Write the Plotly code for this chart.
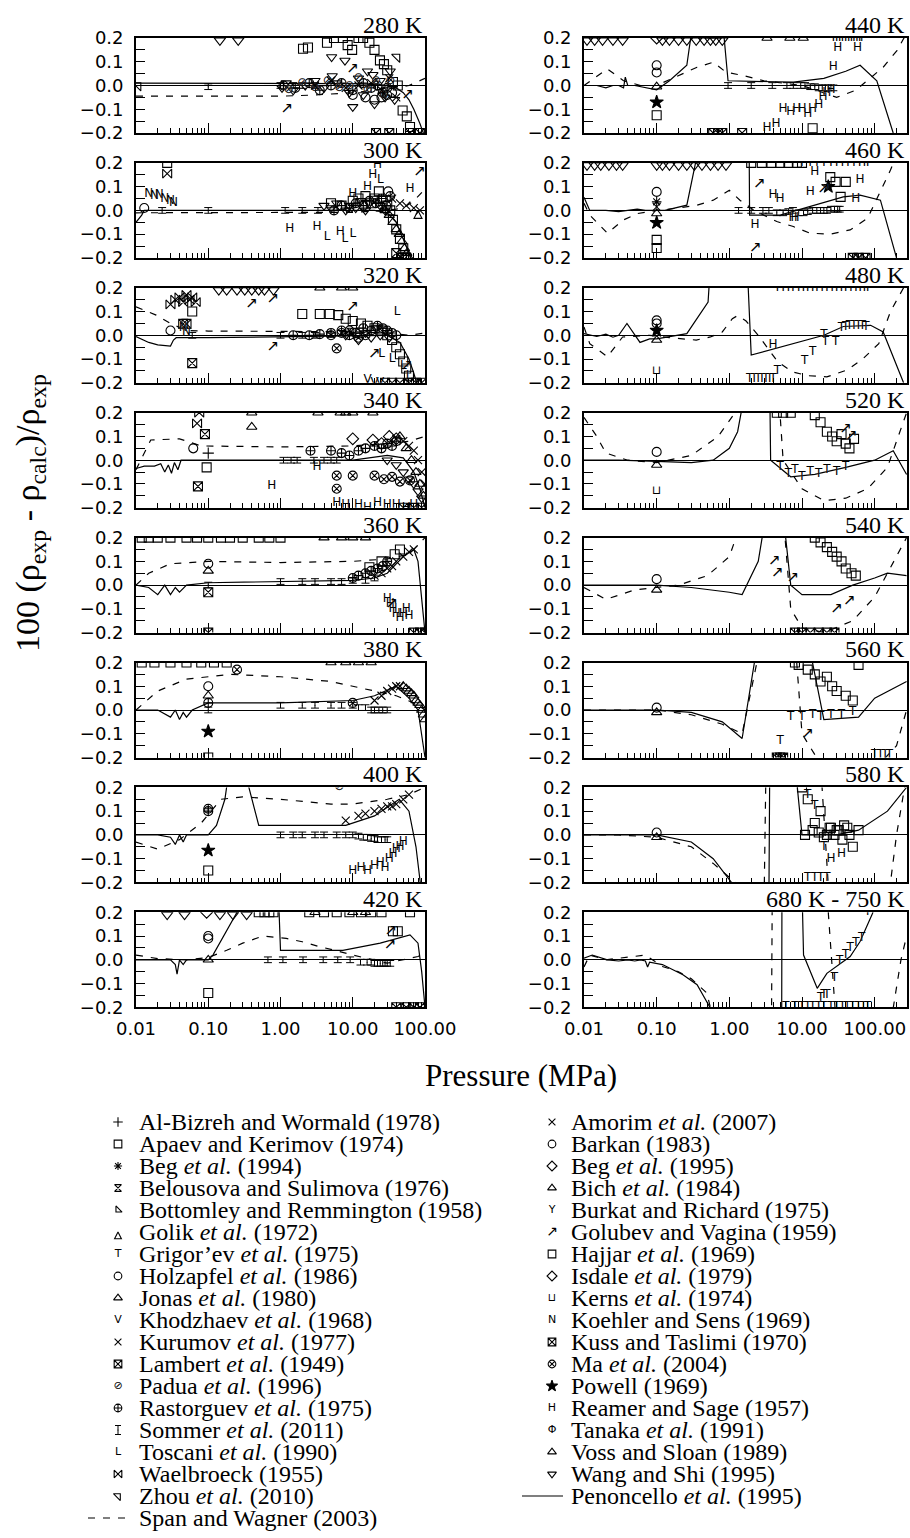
import re
import plotly.graph_objects as go

# ---------------- data (pressure in MPa, deviation in %) ----------------
# 280 K
t280_solid_p = [0.01, 0.1, 1, 5, 10, 20, 30, 40, 50, 60, 70, 85, 100]
t280_solid_d = [0.01, 0.01, 0.01, 0.01, 0.008, 0.005, 0.0, -0.01, -0.03, -0.06, -0.1, -0.16, -0.22]
t280_dash_p = [0.01, 0.1, 1, 3, 10, 20, 40, 60, 80, 100]
t280_dash_d = [-0.045, -0.045, -0.045, -0.04, -0.03, -0.02, -0.01, 0.0, 0.015, 0.03]
t280_sommer_p = [0.1, 1.0, 1.5, 2.0, 3.0]
t280_sommer_d = [-0.005, 0.0, 0.0, 0.0, 0.0]
t280_wangtop_p = [0.145, 0.26]
t280_wangtop_d = [0.19, 0.19]
t280_zhou_p = [0.0107, 41]
t280_zhou_d = [0.0, 0.12]
t280_wang_p = [1.05, 1.2, 1.5, 2.2, 3, 4, 5.1, 5.2, 6, 7.8, 9, 10, 12, 14, 16, 19, 20, 24, 28, 33, 38]
t280_wang_d = [-0.01, 0.01, -0.02, 0.0, 0.02, -0.01, 0.12, 0.04, 0.01, 0.105, -0.03, -0.09, 0.03, -0.04, 0.06, 0.045, -0.078, 0.02, -0.05, 0.06, -0.06]
t280_apaev_p = [2.05, 4.4, 5.5, 7.3, 8.5, 9.8, 12, 13.9, 17, 20, 23.8, 27, 30, 36, 42, 49, 56, 62]
t280_apaev_d = [0.155, 0.18, 0.2, 0.2, 0.17, 0.15, 0.2, 0.2, 0.18, 0.15, 0.106, 0.09, 0.064, 0.015, 0.0, -0.105, -0.13, -0.175]
t280_hajjar_p = [2.4]
t280_hajjar_d = [0.16]
t280_rastorguev_p = [1.1, 1.6, 2.5, 3.5, 5, 7, 10, 14, 18, 22, 26, 30]
t280_rastorguev_d = [0.0, -0.01, 0.01, -0.02, 0.0, 0.01, -0.02, 0.01, -0.01, 0.0, -0.03, -0.01]
t280_padua_p = [1.3, 2, 3, 4.5, 6.5, 9, 12, 16, 21, 27, 33]
t280_padua_d = [-0.02, 0.01, -0.01, 0.02, -0.01, 0.0, 0.03, -0.02, 0.02, -0.04, 0.02]
t280_kurumov_p = [3, 5, 8, 12, 18, 25, 32, 40]
t280_kurumov_d = [0.0, 0.02, -0.01, 0.0, 0.01, -0.02, 0.03, -0.05]
t280_holzapfel_p = [10, 15, 20, 25, 30, 35]
t280_holzapfel_d = [-0.04, -0.05, -0.06, -0.05, -0.04, -0.03]
t280_golubev_p = [1.23, 10, 58]
t280_golubev_d = [-0.1, 0.07, -0.04]
t280_kuss_p = [21, 32, 62, 85]
t280_kuss_d = [-0.2, -0.2, -0.2, -0.2]

# 300 K
t300_solid_p = [0.01, 0.012, 0.013, 0.1, 1, 10, 20, 30, 40, 50, 60, 70]
t300_solid_d = [-0.05, -0.02, 0.0, 0.0, 0.0, 0.0, 0.0, -0.01, -0.05, -0.12, -0.18, -0.25]
t300_dash_p = [0.01, 0.1, 1, 10, 30, 50, 70, 100]
t300_dash_d = [-0.01, -0.01, -0.01, -0.008, 0.0, 0.01, 0.04, 0.09]
t300_sommer_p = [0.023, 0.1, 1.16, 2.0, 3.3]
t300_sommer_d = [0.0, 0.0, 0.0, 0.0, 0.0]
t300_koehler_p = [0.015, 0.018, 0.021, 0.025, 0.03, 0.033]
t300_koehler_d = [0.07, 0.06, 0.065, 0.05, 0.04, 0.03]
t300_barkan_p = [0.013, 31]
t300_barkan_d = [0.01, 0.08]
t300_waelbroeck_p = [0.027]
t300_waelbroeck_d = [0.155]
t300_apaev_p = [0.027, 5, 7, 10, 12, 15, 18, 20, 23, 26, 30, 33, 36, 40, 45, 50, 55]
t300_apaev_d = [0.2, 0.03, 0.02, 0.04, 0.05, 0.06, 0.03, 0.05, 0.08, 0.04, 0.02, 0.0, -0.04, -0.08, -0.12, -0.16, -0.2]
t300_reamer_p = [1.34, 3.2, 6.7, 10, 16, 19, 22, 62]
t300_reamer_d = [-0.08, -0.07, -0.09, 0.07, 0.1, 0.15, 0.19, 0.09]
t300_toscani_p = [4.4, 7.8, 10, 24]
t300_toscani_d = [-0.11, -0.12, -0.1, 0.13]
t300_bich_p = [28, 32, 36, 40, 44, 48, 52, 56, 60]
t300_bich_d = [0.0, -0.02, -0.05, -0.08, -0.1, -0.13, -0.16, -0.18, -0.2]
t300_wang_p = [4, 5, 6, 8, 9, 11, 13, 15, 17, 20, 24, 28]
t300_wang_d = [0.02, 0.01, 0.03, 0.0, 0.02, 0.01, 0.04, 0.0, 0.03, 0.05, 0.02, 0.0]
t300_rastorguev_p = [5.5, 7, 9, 11, 14, 17, 21, 25, 29, 33]
t300_rastorguev_d = [0.0, 0.02, 0.01, 0.03, 0.02, 0.04, 0.03, 0.05, 0.02, 0.06]
t300_amorim_p = [35, 45, 55, 70, 85]
t300_amorim_d = [0.05, 0.03, 0.02, 0.01, 0.0]
t300_kuss_p = [40, 48]
t300_kuss_d = [-0.18, -0.2]
t300_golik_p = [80]
t300_golik_d = [0.0]
t300_golubev_p = [85]
t300_golubev_d = [0.16]

# 320 K
t320_solid_p = [0.01, 0.015, 0.02, 0.03, 0.033, 0.036, 0.1, 1, 10, 20, 30, 45, 60, 70, 80]
t320_solid_d = [-0.005, -0.03, -0.04, -0.045, -0.02, -0.01, -0.01, -0.005, 0.0, 0.0, 0.0, -0.03, -0.1, -0.16, -0.22]
t320_dash_p = [0.01, 0.015, 0.019, 0.03, 0.05, 0.1, 1, 10, 30, 60, 100]
t320_dash_d = [0.12, 0.1, 0.085, 0.05, 0.02, 0.018, 0.018, 0.015, 0.01, 0.0, 0.01]
t320_waelbroeck_p = [0.03, 0.035, 0.04, 0.045, 0.05, 0.055, 0.06, 0.067]
t320_waelbroeck_d = [0.13, 0.15, 0.16, 0.14, 0.17, 0.15, 0.16, 0.14]
t320_lambert_p = [0.045, 0.05, 0.06]
t320_lambert_d = [0.048, 0.048, -0.117]
t320_apaev_p = [0.06, 2.0, 3.5, 4.8, 6.3, 8, 10, 13, 16, 20, 25, 30, 35, 40, 45, 50, 55, 60, 65]
t320_apaev_d = [0.1, 0.09, 0.09, 0.09, 0.085, 0.07, 0.06, 0.05, 0.04, 0.03, 0.02, 0.0, -0.02, -0.05, -0.08, -0.11, -0.14, -0.17, -0.2]
t320_barkan_p = [0.03]
t320_barkan_d = [0.02]
t320_sommer_p = [0.06, 1.0, 2.0, 3.0]
t320_sommer_d = [0.0, 0.0, 0.0, 0.0]
t320_wangtop_p = [0.14, 0.18, 0.25, 0.32, 0.4, 0.5, 0.6, 0.8]
t320_wangtop_d = [0.19, 0.19, 0.19, 0.19, 0.19, 0.19, 0.19, 0.19]
t320_jonas_p = [3.5, 7, 10]
t320_jonas_d = [0.2, 0.2, 0.2]
t320_golubev_p = [0.4, 0.79, 0.79, 10, 20, 56]
t320_golubev_d = [0.13, 0.15, -0.05, 0.12, -0.08, -0.13]
t320_toscani_p = [41, 25, 35, 50, 60]
t320_toscani_d = [0.1, -0.08, -0.1, -0.13, -0.17]
t320_ma_p = [6, 5, 7, 9, 12, 15]
t320_ma_d = [-0.055, 0.0, 0.01, 0.02, -0.01, 0.0]
t320_rastorguev_p = [1.5, 2.5, 3.5, 5, 7, 9, 11, 14, 18, 22, 26, 30, 35, 40]
t320_rastorguev_d = [0.0, 0.0, 0.005, 0.01, 0.02, 0.0, 0.01, 0.03, 0.02, 0.04, 0.03, 0.02, 0.01, 0.0]
t320_wang_p = [8, 10, 12, 15, 18, 21, 24, 28, 32]
t320_wang_d = [0.0, 0.02, -0.02, 0.01, -0.01, 0.03, 0.0, 0.02, -0.01]
t320_khodzhaev_p = [16, 20, 24]
t320_khodzhaev_d = [-0.19, -0.2, -0.2]
t320_kuss_p = [28, 35, 45, 60, 75, 90]
t320_kuss_d = [-0.2, -0.2, -0.2, -0.2, -0.2, -0.2]
t320_koehler_p = [0.045, 0.05]
t320_koehler_d = [0.03, 0.013]

# 340 K
t340_solid_p = [0.01, 0.013, 0.018, 0.022, 0.025, 0.028, 0.031, 0.034, 0.038, 0.042, 0.05, 0.1, 1, 10, 30, 50, 70, 85, 100]
t340_solid_d = [-0.035, -0.025, -0.025, -0.015, -0.05, -0.02, -0.055, -0.01, -0.04, 0.0, 0.0, 0.0, 0.0, 0.0, 0.02, 0.01, -0.05, -0.12, -0.2]
t340_dash_p = [0.01, 0.013, 0.016, 0.04, 0.08, 1, 10, 30, 60, 100]
t340_dash_d = [-0.04, 0.03, 0.085, 0.09, 0.06, 0.056, 0.06, 0.07, 0.08, 0.1]
t340_waelbroeck_p = [0.07, 0.075]
t340_waelbroeck_d = [0.155, 0.2]
t340_lambert_p = [0.09, 0.072]
t340_lambert_d = [0.11, -0.11]
t340_barkan_p = [0.062]
t340_barkan_d = [0.05]
t340_apaev_p = [0.095]
t340_apaev_d = [-0.03]
t340_albizreh_p = [0.1]
t340_albizreh_d = [0.03]
t340_jonas_p = [0.4, 0.4, 3.3, 6.7, 8, 10, 19]
t340_jonas_d = [0.2, 0.14, 0.2, 0.2, 0.2, 0.2, 0.2]
t340_reamer_p = [0.76, 3.2, 6, 8, 12, 16, 22, 30, 40, 55, 70]
t340_reamer_d = [-0.11, -0.03, -0.18, -0.19, -0.19, -0.2, -0.18, -0.19, -0.19, -0.2, -0.19]
t340_sommer_p = [1.1, 1.4, 1.7, 2.9, 4, 5, 6]
t340_sommer_d = [0.0, 0.0, 0.0, 0.0, 0.0, 0.0, 0.0]
t340_rastorguev_p = [2.6, 5, 7, 9, 12, 15, 20, 25, 30, 35, 40]
t340_rastorguev_d = [0.04, 0.04, 0.03, 0.02, 0.04, 0.05, 0.06, 0.05, 0.07, 0.06, 0.08]
t340_ma_p = [6, 6, 10, 20, 27, 35, 45, 62]
t340_ma_d = [-0.065, -0.12, -0.065, -0.065, -0.08, -0.07, -0.09, -0.085]
t340_beg95_p = [10, 19, 25, 32, 40]
t340_beg95_d = [0.09, 0.085, 0.07, 0.1, 0.09]
t340_wang_p = [30, 40, 50, 60, 70, 80, 90]
t340_wang_d = [0.0, -0.02, -0.05, -0.08, -0.1, -0.13, -0.16]
t340_bich_p = [45, 55, 65, 75, 85, 95]
t340_bich_d = [0.1, 0.05, 0.0, -0.05, -0.1, -0.15]
t340_amorim_p = [40, 50, 60, 70, 80, 90, 100]
t340_amorim_d = [0.09, 0.08, 0.06, 0.04, 0.0, -0.05, -0.1]
t340_kuss_p = [50, 70, 90]
t340_kuss_d = [-0.2, -0.2, -0.2]

# 360 K
t360_solid_p = [0.01, 0.015, 0.02, 0.025, 0.03, 0.035, 0.04, 0.05, 0.1, 1, 10, 20, 30, 50, 70, 80, 90, 100]
t360_solid_d = [0.0, -0.01, -0.04, 0.0, -0.04, -0.01, -0.03, 0.0, 0.01, 0.015, 0.02, 0.03, 0.05, 0.12, 0.15, 0.1, -0.05, -0.2]
t360_dash_p = [0.01, 0.015, 0.03, 0.1, 1, 10, 30, 60, 100]
t360_dash_d = [0.0, 0.05, 0.09, 0.1, 0.095, 0.1, 0.11, 0.13, 0.2]
t360_apaev_p = [0.012, 0.015, 0.02, 0.03, 0.05, 0.07, 0.1, 0.15, 0.2, 0.3, 0.5, 0.7, 1.0, 17, 25, 38, 45]
t360_apaev_d = [0.2, 0.2, 0.2, 0.2, 0.2, 0.2, 0.2, 0.2, 0.2, 0.2, 0.2, 0.2, 0.2, 0.075, 0.1, 0.13, 0.15]
t360_jonas_p = [4, 7, 10, 15]
t360_jonas_d = [0.2, 0.2, 0.2, 0.2]
t360_barkan_p = [0.1]
t360_barkan_d = [0.09]
t360_bich_p = [0.1]
t360_bich_d = [0.06]
t360_lambert_p = [0.1]
t360_lambert_d = [-0.03]
t360_sommer_p = [0.1, 1, 2, 3, 5, 7, 10, 15, 20]
t360_sommer_d = [0.0, 0.015, 0.015, 0.015, 0.015, 0.015, 0.02, 0.02, 0.03]
t360_amorim_p = [20, 25, 30, 35, 40, 50, 60, 70]
t360_amorim_d = [0.04, 0.05, 0.07, 0.08, 0.1, 0.12, 0.14, 0.15]
t360_reamer_p = [30, 33, 36, 40, 45, 50, 55, 60]
t360_reamer_d = [-0.06, -0.08, -0.1, -0.12, -0.14, -0.12, -0.1, -0.13]
t360_golubev_p = [35]
t360_golubev_d = [-0.08]
t360_kuss_p = [0.1, 70, 85, 100]
t360_kuss_d = [-0.2, -0.2, -0.2, -0.2]
t360_rastorguev_p = [10, 12, 15, 18, 22, 26, 30]
t360_rastorguev_d = [0.03, 0.04, 0.05, 0.06, 0.07, 0.08, 0.1]

# 380 K
t380_solid_p = [0.01, 0.02, 0.03, 0.035, 0.04, 0.045, 0.05, 0.06, 0.1, 1, 10, 20, 40, 60, 80, 90, 100]
t380_solid_d = [0.0, 0.0, -0.03, 0.0, -0.04, -0.01, -0.03, 0.0, 0.03, 0.03, 0.04, 0.06, 0.1, 0.05, 0.0, -0.1, -0.2]
t380_dash_p = [0.01, 0.02, 0.05, 0.2, 1, 5, 10, 20, 40, 70, 100]
t380_dash_d = [0.0, 0.08, 0.13, 0.15, 0.14, 0.12, 0.1, 0.08, 0.06, 0.03, 0.0]
t380_apaev_p = [0.012, 0.018, 0.03, 0.05, 0.08, 0.12, 0.18, 0.1]
t380_apaev_d = [0.2, 0.2, 0.2, 0.2, 0.2, 0.2, 0.2, -0.2]
t380_ma_p = [0.25, 10]
t380_ma_d = [0.17, 0.03]
t380_jonas_p = [5, 8, 12, 18]
t380_jonas_d = [0.2, 0.2, 0.2, 0.2]
t380_barkan_p = [0.1]
t380_barkan_d = [0.1]
t380_bich_p = [0.1, 50, 55, 60, 65, 70, 75, 80, 85, 90, 95, 100]
t380_bich_d = [0.06, 0.1, 0.09, 0.08, 0.07, 0.06, 0.04, 0.03, 0.02, 0.0, -0.02, -0.04]
t380_rastorguev_p = [0.1]
t380_rastorguev_d = [0.03]
t380_powell_p = [0.1]
t380_powell_d = [-0.09]
t380_sommer_p = [0.1, 1, 2, 3, 5, 7, 10, 12, 15, 18, 20, 23, 26, 30]
t380_sommer_d = [0.0, 0.02, 0.02, 0.02, 0.02, 0.02, 0.02, 0.01, 0.01, 0.0, 0.0, 0.0, 0.0, 0.0]
t380_amorim_p = [20, 25, 30, 35, 40, 45]
t380_amorim_d = [0.04, 0.06, 0.08, 0.09, 0.1, 0.1]

# 400 K
t400_solid_p = [0.01, 0.02, 0.03, 0.035, 0.04, 0.045, 0.05, 0.1, 0.13, 0.17, 0.2, 0.3, 0.5, 1, 5, 8, 20, 44, 60, 75, 90]
t400_solid_d = [0.0, 0.0, -0.01, -0.04, 0.0, -0.03, 0.0, 0.0, 0.04, 0.15, 0.3, 0.3, 0.04, 0.04, 0.04, 0.04, 0.08, 0.15, 0.1, -0.05, -0.25]
t400_dash_p = [0.01, 0.02, 0.04, 0.08, 0.15, 0.3, 1, 5, 10, 30, 60, 100]
t400_dash_d = [-0.03, -0.06, -0.02, 0.05, 0.15, 0.16, 0.15, 0.13, 0.13, 0.15, 0.17, 0.2]
t400_rastorguev_p = [0.1, 0.1]
t400_rastorguev_d = [0.11, 0.1]
t400_powell_p = [0.1]
t400_powell_d = [-0.065]
t400_apaev_p = [0.1]
t400_apaev_d = [-0.15]
t400_sommer_p = [1, 1.5, 2, 3, 4, 6, 8, 10, 12, 14, 16, 18, 20, 22, 25, 28, 30]
t400_sommer_d = [0.0, 0.0, 0.0, 0.0, 0.0, 0.0, 0.0, 0.0, -0.005, -0.01, -0.01, -0.015, -0.015, -0.02, -0.02, -0.02, -0.02]
t400_amorim_p = [8, 12, 15, 20, 25, 30, 35, 40, 50, 60]
t400_amorim_d = [0.06, 0.08, 0.09, 0.1, 0.11, 0.12, 0.12, 0.13, 0.15, 0.17]
t400_reamer_p = [10, 13, 16, 20, 24, 28, 32, 36, 40, 45, 50]
t400_reamer_d = [-0.15, -0.14, -0.15, -0.13, -0.12, -0.14, -0.1, -0.08, -0.06, -0.05, -0.03]
t400_padua_p = [6.5]
t400_padua_d = [0.2]

# 420 K
t420_solid_p = [0.01, 0.02, 0.03, 0.035, 0.037, 0.04, 0.045, 0.05, 0.1, 0.116, 0.18, 0.25, 0.3, 0.93, 1.0, 7.3, 24, 62, 80, 90, 100]
t420_solid_d = [0.0, 0.0, 0.0, -0.02, -0.06, 0.0, -0.02, 0.0, 0.0, 0.02, 0.12, 0.2, 0.3, 0.3, 0.04, 0.04, 0.07, 0.105, 0.07, -0.05, -0.2]
t420_dash_p = [0.01, 0.02, 0.05, 0.1, 0.18, 0.3, 0.57, 1.2, 2, 3.4, 5.7, 10, 30, 80, 100]
t420_dash_d = [0.02, 0.005, 0.0, 0.01, 0.04, 0.07, 0.1, 0.09, 0.076, 0.056, 0.04, 0.02, -0.014, 0.014, 0.03]
t420_wangtop_p = [0.027, 0.047, 0.145, 0.22, 0.34]
t420_wangtop_d = [0.19, 0.19, 0.19, 0.19, 0.19]
t420_beg95_p = [0.095]
t420_beg95_d = [0.2]
t420_apaev_p = [0.5, 0.6, 0.7, 0.8, 2.5, 4, 6, 9, 13, 18, 25, 62, 36, 42]
t420_apaev_d = [0.2, 0.2, 0.2, 0.2, 0.2, 0.2, 0.2, 0.2, 0.2, 0.2, 0.2, 0.2, 0.12, 0.12]
t420_jonas_p = [3, 10, 15]
t420_jonas_d = [0.2, 0.2, 0.2]
t420_barkan_p = [0.1, 0.1]
t420_barkan_d = [0.1, 0.09]
t420_bich_p = [0.1]
t420_bich_d = [0.0]
t420_hajjar_p = [0.1]
t420_hajjar_d = [-0.14]
t420_sommer_p = [0.67, 1.08, 2.05, 3.9, 6.2, 9.2, 12.8, 15.8, 18, 20, 22, 24, 26, 28, 30, 33]
t420_sommer_d = [0.0, 0.0, 0.0, 0.0, 0.0, 0.0, -0.01, -0.01, -0.01, -0.015, -0.015, -0.015, -0.015, -0.015, -0.015, -0.015]
t420_golubev_p = [34, 33]
t420_golubev_d = [0.12, 0.06]
t420_kuss_p = [40, 55, 70, 85]
t420_kuss_d = [-0.2, -0.2, -0.2, -0.2]

# 440 K
t440_solid_p = [0.01, 0.015, 0.02, 0.025, 0.03, 0.035, 0.037, 0.04, 0.05, 0.07, 0.1, 0.15, 0.26, 0.31, 0.82, 0.96, 7.6, 20, 40, 63, 107, 180]
t440_solid_d = [0.0, 0.0, -0.01, 0.0, 0.0, -0.01, 0.035, 0.0, 0.0, -0.01, -0.018, 0.02, 0.085, 0.25, 0.25, 0.02, 0.014, 0.03, 0.06, 0.085, 0.02, -0.2]
t440_dash_p = [0.01, 0.021, 0.035, 0.06, 0.1, 0.2, 0.36, 0.6, 0.9, 1.55, 3, 10, 30, 55, 131, 204, 275]
t440_dash_d = [0.0, 0.07, 0.02, 0.0, 0.0, 0.04, 0.077, 0.098, 0.056, 0.042, 0.02, 0.0, -0.05, -0.02, 0.077, 0.148, 0.22]
t440_wangtop_p = [0.011, 0.014, 0.018, 0.025, 0.034, 0.12, 0.15, 0.2, 0.26, 0.35, 0.45, 0.55, 0.65, 0.8]
t440_wangtop_d = [0.19, 0.19, 0.19, 0.19, 0.19, 0.19, 0.19, 0.19, 0.19, 0.19, 0.19, 0.19, 0.19, 0.19]
t440_beg95_p = [0.1]
t440_beg95_d = [0.2]
t440_jonas_p = [3.3, 6.8, 10.4]
t440_jonas_d = [0.2, 0.2, 0.2]
t440_grigorev_p = [27, 30, 33, 36, 40, 44, 48, 52, 57, 62, 66]
t440_grigorev_d = [0.2, 0.2, 0.2, 0.2, 0.2, 0.2, 0.2, 0.2, 0.2, 0.2, 0.2]
t440_barkan_p = [0.1]
t440_barkan_d = [0.085]
t440_holzapfel_p = [0.1]
t440_holzapfel_d = [0.055]
t440_bich_p = [0.1]
t440_bich_d = [-0.005]
t440_powell_p = [0.1]
t440_powell_d = [-0.07]
t440_apaev_p = [0.1, 14]
t440_apaev_d = [-0.125, -0.18]
t440_sommer_p = [0.96, 2.0, 3.9, 6.2, 7.6, 9.6, 11, 13, 15, 17, 19, 21, 23, 25, 27]
t440_sommer_d = [0.0, 0.0, 0.0, 0.0, 0.0, 0.0, 0.0, -0.005, -0.005, -0.01, -0.01, -0.01, -0.01, -0.01, -0.01]
t440_reamer_p = [27, 31, 58, 3.3, 4.4, 5.5, 7, 8.5, 10, 12, 14, 17, 19.5, 22, 25]
t440_reamer_d = [0.077, 0.16, 0.16, -0.18, -0.16, -0.1, -0.11, -0.1, -0.1, -0.12, -0.1, -0.08, -0.05, -0.03, -0.02]
t440_kuss_p = [0.6, 0.7, 0.8, 1.5]
t440_kuss_d = [-0.2, -0.2, -0.2, -0.2]

# 460 K
t460_solid_p = [0.01, 0.012, 0.02, 0.03, 0.04, 0.054, 0.07, 0.1, 0.13, 0.26, 0.4, 1.87, 1.9, 5, 12.9, 37, 63, 120, 200]
t460_solid_d = [0.055, 0.0, 0.0, -0.005, 0.0, 0.005, 0.0, 0.0, 0.0, 0.022, 0.3, 0.3, -0.02, -0.02, 0.015, 0.057, 0.064, 0.043, -0.2]
t460_dash_p = [0.01, 0.012, 0.021, 0.035, 0.055, 0.1, 0.2, 0.36, 0.6, 1.0, 1.4, 2.2, 4.5, 7.6, 12.9, 24.5, 46, 80, 165, 250]
t460_dash_d = [0.03, -0.02, -0.096, -0.04, -0.013, 0.0, 0.01, 0.022, 0.043, 0.085, 0.043, 0.0, -0.047, -0.068, -0.096, -0.1, -0.082, -0.033, 0.17, 0.3]
t460_wangtop_p = [0.011, 0.014, 0.017, 0.022, 0.028, 0.034, 0.1, 0.12, 0.15, 0.2, 0.26, 0.33, 0.42, 0.55, 0.7, 0.9]
t460_wangtop_d = [0.19, 0.19, 0.19, 0.19, 0.19, 0.19, 0.19, 0.19, 0.19, 0.19, 0.19, 0.19, 0.19, 0.19, 0.19, 0.19]
t460_apaev_p = [2, 2.8, 3.8, 5, 6.5, 8.5, 10, 0.1, 0.1, 24.5, 29, 40, 34]
t460_apaev_d = [0.2, 0.2, 0.2, 0.2, 0.2, 0.2, 0.2, -0.124, -0.158, 0.14, 0.12, 0.12, 0.057]
t460_grigorev_p = [10, 13, 16, 20, 25, 30, 36, 43, 52, 62, 72, 80]
t460_grigorev_d = [0.2, 0.2, 0.2, 0.2, 0.2, 0.2, 0.2, 0.2, 0.2, 0.2, 0.2, 0.2]
t460_barkan_p = [0.1]
t460_barkan_d = [0.078]
t460_beg94_p = [0.1]
t460_beg94_d = [0.036]
t460_amorim_p = [0.1]
t460_amorim_d = [0.015]
t460_bich_p = [0.1]
t460_bich_d = [-0.013]
t460_powell_p = [0.1, 23]
t460_powell_d = [-0.052, 0.1]
t460_sommer_p = [1.34, 2.0, 2.9, 3.5, 4.5, 5.5, 6.5, 7.5, 9, 10.5, 12, 14, 16, 18, 20, 22, 25, 28, 31, 33]
t460_sommer_d = [0.0, 0.0, 0.0, 0.0, -0.01, -0.01, -0.005, 0.0, -0.01, -0.01, -0.005, 0.0, 0.0, 0.0, 0.0, 0.0, 0.005, 0.005, 0.005, 0.005]
t460_reamer_p = [2.25, 4, 5, 13, 7.5, 8, 15, 63, 55]
t460_reamer_d = [-0.06, 0.064, 0.05, 0.078, -0.03, -0.03, 0.16, 0.127, 0.05]
t460_golubev_p = [2.6, 20, 2.3]
t460_golubev_d = [0.11, 0.09, -0.16]
t460_kuss_p = [50, 60, 75]
t460_kuss_d = [-0.2, -0.2, -0.2]

# 480 K
t480_solid_p = [0.01, 0.015, 0.02, 0.025, 0.03, 0.039, 0.059, 0.08, 0.1, 0.26, 0.51, 0.55, 1.76, 2.0, 20, 37, 88, 131, 250]
t480_solid_d = [0.007, -0.005, 0.005, -0.008, 0.0, 0.05, -0.03, -0.015, -0.015, 0.007, 0.14, 0.3, 0.3, -0.083, 0.0, 0.037, 0.042, 0.014, -0.2]
t480_dash_p = [0.01, 0.012, 0.021, 0.034, 0.08, 0.15, 0.35, 0.55, 0.8, 1.1, 1.3, 1.7, 2.5, 4.6, 7.4, 12, 22, 42, 70, 114, 165, 250]
t480_dash_d = [0.035, -0.035, -0.09, -0.007, 0.0, -0.01, -0.02, -0.007, 0.014, 0.07, 0.083, 0.06, 0.0, -0.11, -0.154, -0.17, -0.175, -0.146, -0.097, -0.035, 0.1, 0.2]
t480_grigorev_p = [4.6, 5.5, 6.5, 7.5, 9, 10.5, 12, 14, 16, 19, 22, 26, 30, 35, 40, 47, 55, 63, 72, 80,
                   4.6, 10.9, 14, 21, 29, 35, 40, 45, 52, 60, 68, 76, 20,
                   1.9, 2.2, 2.5, 2.8, 3.2, 3.6, 4.0]
t480_grigorev_d = [0.2, 0.2, 0.2, 0.2, 0.2, 0.2, 0.2, 0.2, 0.2, 0.2, 0.2, 0.2, 0.2, 0.2, 0.2, 0.2, 0.2, 0.2, 0.2, 0.2,
                   -0.15, -0.11, -0.07, -0.03, -0.03, 0.03, 0.035, 0.04, 0.04, 0.04, 0.04, 0.035, 0.0,
                   -0.185, -0.185, -0.185, -0.185, -0.185, -0.185, -0.185]
t480_holzapfel_p = [0.1]
t480_holzapfel_d = [0.063]
t480_barkan_p = [0.1]
t480_barkan_d = [0.05]
t480_powell_p = [0.1]
t480_powell_d = [0.02]
t480_bich_p = [0.1]
t480_bich_d = [-0.02]
t480_kerns_p = [0.1]
t480_kerns_d = [-0.15]
t480_reamer_p = [4]
t480_reamer_d = [-0.04]

# 520 K
t520_solid_p = [0.01, 0.03, 0.1, 0.3, 0.6, 1.0, 1.3, 1.67, 3.6, 3.7, 7, 15, 40, 100, 180, 275]
t520_solid_d = [0.0, 0.0, -0.005, -0.01, 0.0, 0.05, 0.12, 0.3, 0.3, 0.0, -0.07, -0.06, -0.03, 0.0, 0.04, -0.06]
t520_dash_p = [0.01, 0.015, 0.02, 0.04, 0.1, 0.3, 0.7, 1.2, 1.4, 4.5, 5.5, 10, 20, 40, 80, 150, 200, 275]
t520_dash_d = [0.18, 0.1, 0.03, 0.0, -0.01, 0.02, 0.1, 0.2, 0.4, 0.4, 0.0, -0.12, -0.17, -0.16, -0.12, -0.03, 0.08, 0.2]
t520_barkan_p = [0.1]
t520_barkan_d = [0.035]
t520_bich_p = [0.1]
t520_bich_d = [-0.02]
t520_kerns_p = [0.1]
t520_kerns_d = [-0.13]
t520_grigorev_p = [5, 6.5, 8, 10, 13, 17, 22, 30, 40]
t520_grigorev_d = [-0.03, -0.06, -0.04, -0.07, -0.05, -0.06, -0.04, -0.05, -0.03]
t520_apaev_p = [4.5, 5.5, 7, 15, 18, 22, 26, 30, 35, 40, 45, 52]
t520_apaev_d = [0.2, 0.2, 0.2, 0.19, 0.16, 0.12, 0.1, 0.08, 0.11, 0.07, 0.05, 0.09]
t520_golubev_p = [40, 48]
t520_golubev_d = [0.13, 0.1]

# 540 K
t540_solid_p = [0.01, 0.1, 0.3, 1.0, 1.5, 2.5, 3.2, 5.5, 7, 10, 25, 50, 100, 150, 275]
t540_solid_d = [0.0, 0.0, -0.01, -0.03, -0.04, 0.1, 0.3, 0.3, 0.0, -0.04, -0.04, 0.0, 0.03, 0.05, 0.04]
t540_dash_p = [0.01, 0.02, 0.05, 0.2, 0.5, 1.0, 1.6, 5.5, 7, 10, 20, 50, 100, 200, 275]
t540_dash_d = [-0.01, -0.06, -0.02, 0.0, 0.04, 0.12, 0.3, 0.3, -0.1, -0.18, -0.2, -0.15, -0.05, 0.12, 0.2]
t540_barkan_p = [0.1]
t540_barkan_d = [0.025]
t540_bich_p = [0.1]
t540_bich_d = [-0.02]
t540_apaev_p = [15, 18, 22, 26, 30, 35, 40, 48, 55]
t540_apaev_d = [0.2, 0.18, 0.16, 0.14, 0.12, 0.1, 0.07, 0.05, 0.04]
t540_golubev_p = [4.2, 4.6, 7.5, 30, 45]
t540_golubev_d = [0.1, 0.05, 0.03, -0.1, -0.07]
t540_kuss_p = [8, 10, 13, 17, 22, 28]
t540_kuss_d = [-0.2, -0.2, -0.2, -0.2, -0.2, -0.2]

# 560 K
t560_solid_p = [0.01, 0.1, 0.3, 0.8, 1.5, 2.5, 12, 20, 60, 100, 275]
t560_solid_d = [0.0, 0.0, -0.01, -0.05, -0.12, 0.3, 0.3, -0.04, -0.03, 0.05, 0.12]
t560_dash_p = [0.01, 0.1, 0.3, 0.8, 1.5, 2.8, 8, 10, 20, 50, 100, 200, 275]
t560_dash_d = [0.0, 0.0, -0.02, -0.06, -0.1, 0.3, 0.3, -0.1, -0.25, -0.25, -0.25, -0.15, 0.0]
t560_barkan_p = [0.1]
t560_barkan_d = [0.01]
t560_bich_p = [0.1]
t560_bich_d = [-0.01]
t560_apaev_p = [8, 9, 12, 15, 18, 22, 26, 30, 40, 50, 60]
t560_apaev_d = [0.2, 0.19, 0.17, 0.15, 0.12, 0.14, 0.1, 0.08, 0.06, 0.04, 0.19]
t560_grigorev_p = [5, 7, 10, 14, 18, 25, 35, 50, 100, 120, 140, 160]
t560_grigorev_d = [-0.13, -0.03, -0.03, -0.02, -0.03, -0.02, -0.02, -0.01, -0.19, -0.19, -0.19, -0.19]
t560_golubev_p = [12]
t560_golubev_d = [-0.1]
t560_kuss_p = [4.5, 5, 5.5]
t560_kuss_d = [-0.2, -0.2, -0.2]

# 580 K
t580_solid_p = [0.01, 0.03, 0.1, 0.3, 0.6, 1.2, 3.5, 3.6, 8, 10, 30, 60, 150, 275]
t580_solid_d = [0.0, 0.0, 0.0, -0.03, -0.1, -0.22, -0.3, 0.3, 0.3, 0.0, 0.0, 0.02, 0.1, 0.2]
t580_dash_p = [0.01, 0.03, 0.1, 0.3, 0.6, 1.2, 3.0, 3.2, 18, 24, 150, 200, 275]
t580_dash_d = [0.0, 0.0, -0.01, -0.05, -0.12, -0.2, -0.3, 0.3, 0.3, -0.3, -0.3, 0.0, 0.25]
t580_barkan_p = [0.1]
t580_barkan_d = [0.01]
t580_bich_p = [0.1]
t580_bich_d = [-0.01]
t580_apaev_p = [10, 12, 15, 18, 22, 25, 30, 36, 42, 50, 60]
t580_apaev_d = [0.2, 0.15, 0.05, 0.1, 0.0, 0.03, 0.02, -0.02, 0.03, -0.05, 0.02]
t580_hajjar_p = [11, 14, 17, 20, 24, 28, 32, 38, 45]
t580_hajjar_d = [0.0, 0.02, 0.01, -0.01, 0.03, 0.0, 0.02, 0.04, 0.0]
t580_grigorev_p = [12, 15, 20, 12, 15, 18, 22]
t580_grigorev_d = [0.17, 0.12, -0.05, -0.18, -0.18, -0.18, -0.18]
t580_reamer_p = [25, 35]
t580_reamer_d = [-0.1, -0.08]

# 680 K - 750 K
t680_solid_p = [0.01, 0.013, 0.021, 0.03, 0.04, 0.05, 0.06, 0.07, 0.075, 0.08, 0.12, 0.23, 0.36, 0.54, 5.25, 5.3, 10, 10.5, 16.2, 22, 46, 63, 95]
t680_solid_d = [0.007, 0.02, 0.0, -0.005, 0.0, -0.005, 0.0, -0.005, -0.03, -0.01, -0.02, -0.063, -0.105, -0.2, -0.3, 0.3, 0.3, 0.02, -0.12, -0.057, 0.014, 0.077, 0.2]
t680_dash_p = [0.01, 0.012, 0.02, 0.04, 0.07, 0.12, 0.2, 0.3, 0.49, 0.6, 3.8, 3.9, 22, 23, 30, 160, 230, 275]
t680_dash_d = [-0.03, 0.02, 0.0, 0.01, 0.02, -0.028, -0.05, -0.08, -0.14, -0.25, -0.3, 0.3, 0.3, 0.2, -0.3, -0.3, 0.0, 0.1]
t680_grigorev_p = [22, 28, 33, 40, 46, 55, 66, 80, 18, 20,
                   6, 8, 10, 12, 14, 17, 20, 25, 30, 36, 42, 50, 60, 70, 80]
t680_grigorev_d = [-0.15, -0.077, -0.007, 0.02, 0.05, 0.07, 0.09, 0.2, -0.16, -0.15,
                   -0.2, -0.2, -0.2, -0.2, -0.2, -0.2, -0.2, -0.2, -0.2, -0.2, -0.2, -0.2, -0.2, -0.2, -0.2]

PANELS = [('280 K', 't280'), ('300 K', 't300'), ('320 K', 't320'), ('340 K', 't340'),
          ('360 K', 't360'), ('380 K', 't380'), ('400 K', 't400'), ('420 K', 't420'),
          ('440 K', 't440'), ('460 K', 't460'), ('480 K', 't480'), ('520 K', 't520'),
          ('540 K', 't540'), ('560 K', 't560'), ('580 K', 't580'), ('680 K - 750 K', 't680')]

X_TICKS = [0.01, 0.1, 1, 10, 100]
X_TICKTEXT = ['0.01', '0.10', '1.00', '10.00', '100.00']
Y_TICKS = [-0.2, -0.15, -0.1, -0.05, 0.0, 0.05, 0.1, 0.15, 0.2]
Y_TICKTEXT = ['\u22120.2', '', '\u22120.1', '', '0.0', '', '0.1', '', '0.2']

LEGEND_LEFT = [
    ('albizreh', 'Al-Bizreh and Wormald (1978)'),
    ('apaev', 'Apaev and Kerimov (1974)'),
    ('beg94', 'Beg <i>et al.</i> (1994)'),
    ('belousova', 'Belousova and Sulimova (1976)'),
    ('bottomley', 'Bottomley and Remmington (1958)'),
    ('golik', 'Golik <i>et al.</i> (1972)'),
    ('grigorev', 'Grigor\u2019ev <i>et al.</i> (1975)'),
    ('holzapfel', 'Holzapfel <i>et al.</i> (1986)'),
    ('jonas', 'Jonas <i>et al.</i> (1980)'),
    ('khodzhaev', 'Khodzhaev <i>et al.</i> (1968)'),
    ('kurumov', 'Kurumov <i>et al.</i> (1977)'),
    ('lambert', 'Lambert <i>et al.</i> (1949)'),
    ('padua', 'Padua <i>et al.</i> (1996)'),
    ('rastorguev', 'Rastorguev <i>et al.</i> (1975)'),
    ('sommer', 'Sommer <i>et al.</i> (2011)'),
    ('toscani', 'Toscani <i>et al.</i> (1990)'),
    ('waelbroeck', 'Waelbroeck (1955)'),
    ('zhou', 'Zhou <i>et al.</i> (2010)'),
    ('dash', 'Span and Wagner (2003)'),
]
LEGEND_RIGHT = [
    ('amorim', 'Amorim <i>et al.</i> (2007)'),
    ('barkan', 'Barkan (1983)'),
    ('beg95', 'Beg <i>et al.</i> (1995)'),
    ('bich', 'Bich <i>et al.</i> (1984)'),
    ('burkat', 'Burkat and Richard (1975)'),
    ('golubev', 'Golubev and Vagina (1959)'),
    ('hajjar', 'Hajjar <i>et al.</i> (1969)'),
    ('isdale', 'Isdale <i>et al.</i> (1979)'),
    ('kerns', 'Kerns <i>et al.</i> (1974)'),
    ('koehler', 'Koehler and Sens (1969)'),
    ('kuss', 'Kuss and Taslimi (1970)'),
    ('ma', 'Ma <i>et al.</i> (2004)'),
    ('powell', 'Powell (1969)'),
    ('reamer', 'Reamer and Sage (1957)'),
    ('tanaka', 'Tanaka <i>et al.</i> (1991)'),
    ('voss', 'Voss and Sloan (1989)'),
    ('wang', 'Wang and Shi (1995)'),
    ('solid', 'Penoncello <i>et al.</i> (1995)'),
]

# ---------------- styling / layout ----------------
W, H = 910, 1538
COLX = [(136, 425), (584, 907)]   # screen pixels of each column's plot area
XRANGE = [[-2, 2], [-2, 2.445]]
TOP0, STEP, PH = 38, 124.9, 95
SERIF = 'Liberation Serif'
SANS = 'DejaVu Sans'


def fx(x):
    return x / W


def fy(y):
    return 1 - y / H


# glyph of each data set: plotly marker symbols, an error-bar "I", or a text glyph
GLYPH = {
    'albizreh': [('cross-thin-open', 8)],
    'apaev': [('square-open', 9)],
    'beg94': [('asterisk-open', 8)],
    'belousova': [('hourglass-open', 8)],
    'bottomley': [('triangle-sw-open', 8)],
    'golik': [('arrow-up-open', 8)],
    'grigorev': ('text', 'T', 12),
    'holzapfel': [('circle-open', 9)],
    'jonas': [('triangle-up-open', 9)],
    'khodzhaev': ('text', 'V', 12),
    'kurumov': [('x-thin-open', 8)],
    'lambert': [('square-x-open', 9)],
    'padua': ('text', '\u2298', 12),
    'rastorguev': [('circle-cross-open', 9)],
    'sommer': 'errorbar',
    'toscani': ('text', 'L', 12),
    'waelbroeck': [('bowtie-open', 9)],
    'zhou': [('triangle-ne-open', 9)],
    'amorim': [('x-thin-open', 8)],
    'barkan': [('circle-open', 9)],
    'beg95': [('diamond-open', 9)],
    'bich': [('triangle-up-open', 9)],
    'burkat': ('text', 'Y', 12),
    'golubev': ('text', '\u2197', 15),
    'hajjar': [('square-open', 9)],
    'isdale': [('diamond-open', 9)],
    'kerns': ('text', '\u2294', 12),
    'koehler': ('text', 'N', 12),
    'kuss': [('square-x-open', 9)],
    'ma': [('circle-x-open', 9)],
    'powell': [('star', 10)],
    'reamer': ('text', 'H', 12),
    'tanaka': ('text', '\u03a6', 12),
    'voss': [('triangle-up-open', 9)],
    'wang': [('triangle-down-open', 9)],
    'wangtop': [('triangle-down-open', 10)],
}


def series_of(prefix):
    g = globals()
    out = []
    for name in list(g):
        m = re.fullmatch(prefix + r'_([a-z0-9]+)_p', name)
        if m:
            key = m.group(1)
            out.append((key, g[name], g[prefix + '_' + key + '_d']))
    return out


def line_trace(kind, x, y, xa, ya, legend=False):
    dash = '7px,8px' if kind == 'dash' else 'solid'
    return go.Scatter(x=x, y=y, mode='lines', xaxis=xa, yaxis=ya, hoverinfo='skip',
                      line=dict(color='black', width=1.2, dash=dash), cliponaxis=not legend)


def marker_traces(key, x, y, xa, ya, legend=False):
    g = GLYPH[key]
    common = dict(x=x, y=y, xaxis=xa, yaxis=ya, hoverinfo='skip', cliponaxis=not legend)
    if g == 'errorbar':
        return [go.Scatter(mode='markers', marker=dict(size=1, color='black'),
                           error_y=dict(type='constant', value=4.5 if legend else 0.012,
                                        width=3 if legend else 4, thickness=1, color='black'),
                           **common)]
    if isinstance(g, tuple):
        _, ch, fs = g
        if legend:
            fs -= 1
        return [go.Scatter(mode='text', text=[ch] * len(x), textposition='middle center',
                           textfont=dict(family=SANS, size=fs, color='#000000',
                                         shadow='0px 0px 1px rgba(255,255,255,0.6)'), **common)]
    traces = []
    for sym, size in g:
        if legend:
            size = size * 0.85
        traces.append(go.Scatter(mode='markers',
                                 marker=dict(symbol=sym, size=size, color='black',
                                             line=dict(color='black', width=1.1)), **common))
    return traces


fig = go.Figure()
layout = dict(width=W, height=H, autosize=False,
              margin=dict(l=0, r=0, t=0, b=0, pad=0, autoexpand=False),
              paper_bgcolor='white', plot_bgcolor='rgba(0,0,0,0)', showlegend=False)
annotations = []
minor_vals = [m * 10.0 ** e for e in range(-2, 3) for m in range(2, 10)]

for i, (title, prefix) in enumerate(PANELS):
    col, row = divmod(i, 8)
    k = i + 1
    sx = '' if k == 1 else str(k)
    x0, x1 = COLX[col]
    top = TOP0 + STEP * row
    bot = top + PH
    layout['xaxis' + sx] = dict(
        domain=[fx(x0), fx(x1)], range=XRANGE[col], type='log', anchor='y' + sx,
        showline=True, mirror=True, linecolor='black', linewidth=1.7, automargin=False,
        ticks='inside', ticklen=10, tickwidth=1, tickcolor='black',
        tickmode='array', tickvals=X_TICKS, ticktext=X_TICKTEXT,
        showticklabels=(row == 7), tickfont=dict(family=SANS, size=18, color='black'),
        ticklabelstandoff=4, showgrid=False, zeroline=False,
        minor=dict(ticks='inside', ticklen=5, tickwidth=1, tickcolor='black',
                   tickmode='array', tickvals=minor_vals, showgrid=False))
    layout['yaxis' + sx] = dict(
        domain=[fy(bot), fy(top)], range=[-0.2, 0.2], anchor='x' + sx,
        showline=True, mirror=True, linecolor='black', linewidth=1.7, automargin=False,
        ticks='inside', ticklen=9, tickwidth=1, tickcolor='black',
        tickmode='array', tickvals=Y_TICKS, ticktext=Y_TICKTEXT,
        tickfont=dict(family=SANS, size=18, color='black'), ticklabelstandoff=7,
        showgrid=False, zeroline=True, zerolinecolor='black', zerolinewidth=1)
    xa, ya = 'x' + sx, 'y' + sx
    ser = series_of(prefix)
    for key, p, d in ser:
        if key in ('solid', 'dash'):
            fig.add_trace(line_trace(key, p, d, xa, ya))
    for key, p, d in ser:
        if key not in ('solid', 'dash'):
            for tr in marker_traces(key, p, d, xa, ya):
                fig.add_trace(tr)
    annotations.append(dict(text=title, x=fx(x1), y=fy(top), xref='paper', yref='paper',
                            xanchor='right', yanchor='bottom', showarrow=False, yshift=-2,
                            font=dict(family=SERIF, size=24, color='black')))

# axis titles
annotations.append(dict(text='Pressure (MPa)', x=fx(521), y=fy(1075), xref='paper', yref='paper',
                        xanchor='center', yanchor='middle', showarrow=False,
                        font=dict(family=SERIF, size=31, color='black')))
annotations.append(dict(text='100 (\u03c1<sub>exp</sub> - \u03c1<sub>calc</sub>)/\u03c1<sub>exp</sub>',
                        x=fx(30), y=fy(513), xref='paper', yref='paper', textangle=-90,
                        xanchor='center', yanchor='middle', showarrow=False,
                        font=dict(family=SERIF, size=34, color='black')))

# legend drawn in a screen-pixel overlay axis
LEG_TOP = 1095
layout['xaxis17'] = dict(domain=[0, 1], range=[0, W], visible=False, anchor='y17',
                         fixedrange=True, automargin=False)
layout['yaxis17'] = dict(domain=[0, fy(LEG_TOP)], range=[H, LEG_TOP], visible=False,
                         anchor='x17', fixedrange=True, automargin=False)
ROW0, ROWSTEP = 1122, 22
for entries, sym_x, text_x, line_x in ((LEGEND_LEFT, 118, 137, (88, 128)),
                                       (LEGEND_RIGHT, 552, 569, (522, 563))):
    for j, (key, label) in enumerate(entries):
        yy = ROW0 + ROWSTEP * j
        if key in ('solid', 'dash'):
            fig.add_trace(line_trace(key, list(line_x), [yy, yy], 'x17', 'y17', legend=True))
        else:
            for tr in marker_traces(key, [sym_x], [yy], 'x17', 'y17', legend=True):
                fig.add_trace(tr)
        annotations.append(dict(text=label, x=text_x, y=yy, xref='x17', yref='y17',
                                xanchor='left', yanchor='middle', showarrow=False,
                                font=dict(family=SERIF, size=24, color='black')))

layout['annotations'] = annotations
fig.update_layout(**layout)
fig.write_html('out.html', include_plotlyjs=True, config={'displayModeBar': False},
               post_script="document.body.style.margin='0';document.body.style.overflow='hidden';")
